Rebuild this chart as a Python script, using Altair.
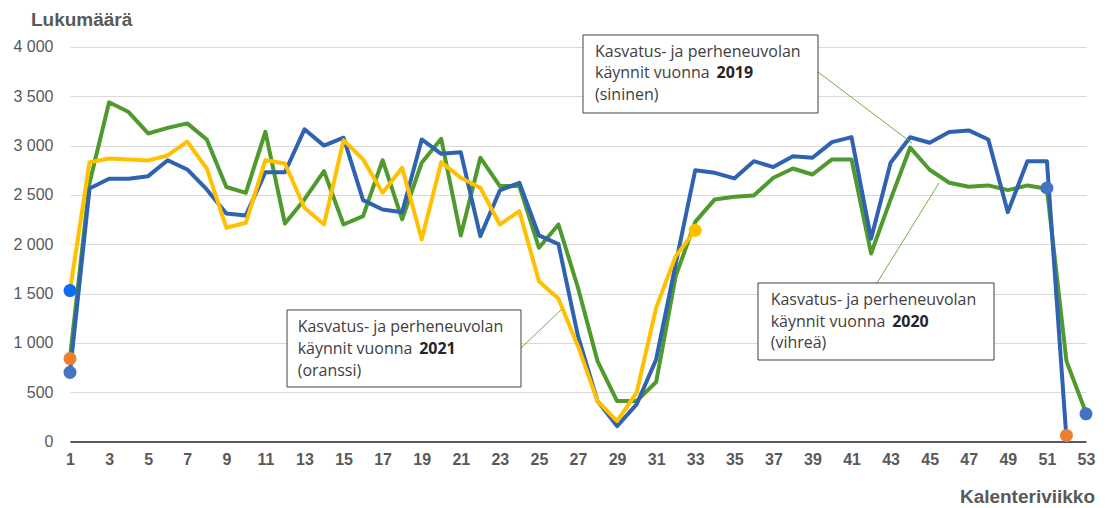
import altair as alt
import pandas as pd

weeks_2019 = list(range(1, 53))
values_2019 = [700, 2565, 2663, 2663, 2690, 2852, 2758, 2555, 2312, 2292, 2730, 2730, 3165, 3000,
               3080, 2447, 2352, 2325, 3062, 2917, 2933, 2082, 2545, 2623, 2089, 2000, 1068, 409,
               155, 375, 831, 1800, 2751, 2724, 2667, 2842, 2782, 2893, 2877, 3035, 3086, 2055,
               2826, 3085, 3029, 3137, 3154, 3062, 2325, 2842, 2842, 30]

weeks_2020 = list(range(1, 54))
values_2020 = [850, 2620, 3440, 3340, 3123, 3180, 3225, 3062, 2580, 2520, 3140, 2210, 2454, 2741,
               2200, 2285, 2852, 2251, 2826, 3069, 2089, 2877, 2589, 2590, 1964, 2200, 1558, 814,
               409, 409, 602, 1676, 2226, 2454, 2481, 2494, 2674, 2768, 2707, 2860, 2860, 1906,
               2454, 2980, 2755, 2623, 2582, 2596, 2548, 2596, 2562, 814, 290]

weeks_2021 = list(range(1, 34))
values_2021 = [1530, 2832, 2870, 2860, 2850, 2900, 3040, 2768, 2167, 2217, 2852, 2819, 2370, 2200,
               3055, 2860, 2522, 2775, 2048, 2832, 2674, 2572, 2200, 2335, 1625, 1447, 966, 409,
               206, 494, 1355, 1879, 2140]

dot_weeks = [1, 1, 1, 33, 51, 52, 53]
dot_values = [1530, 840, 700, 2140, 2570, 60, 280]
dot_colors = ["#0f6af2", "#ed7d31", "#4472c4", "#ffc000", "#4472c4", "#ed7d31", "#4472c4"]

x_ticks = list(range(1, 54, 2))
y_ticks = [0, 500, 1000, 1500, 2000, 2500, 3000, 3500, 4000]

BLUE = "#2f62b0"
GREEN = "#4f9a2d"
YELLOW = "#ffc000"
GRAY = "#595959"

df19 = pd.DataFrame({"week": weeks_2019, "value": values_2019})
df20 = pd.DataFrame({"week": weeks_2020, "value": values_2020})
df21 = pd.DataFrame({"week": weeks_2021, "value": values_2021})
dots = pd.DataFrame({"week": dot_weeks, "value": dot_values, "color": dot_colors})

xscale = alt.Scale(domain=[1, 53], nice=False, zero=False)
yscale = alt.Scale(domain=[0, 4000], nice=False)

xaxis = alt.Axis(values=x_ticks, title=None, grid=False, ticks=False, domain=True,
                 domainColor=GRAY, domainWidth=2, labelColor=GRAY, labelFont="Liberation Sans",
                 labelFontSize=16, labelFontWeight="bold", labelPadding=10, labelFlush=False)
yaxis = alt.Axis(values=y_ticks, title=None, grid=True, gridColor="#d9d9d9", gridWidth=1,
                 ticks=False, domain=False, labelColor=GRAY, labelFont="Liberation Sans",
                 labelFontSize=16, labelPadding=17,
                 labelExpr="replace(format(datum.value, ','), ',', ' ')")

X = alt.X("week:Q", scale=xscale, axis=xaxis)
Y = alt.Y("value:Q", scale=yscale, axis=yaxis)


def line(df, color):
    return alt.Chart(df).mark_line(color=color, strokeWidth=4, strokeJoin="round").encode(x=X, y=Y)


l20 = line(df20, GREEN)
l19 = line(df19, BLUE)
l21 = line(df21, YELLOW)

pts = alt.Chart(dots).mark_circle(size=170, opacity=1).encode(
    x=X, y=Y, color=alt.Color("color:N", scale=None),
)


def rule(x1, y1, x2, y2):
    return alt.Chart(pd.DataFrame({"a": [0]})).mark_rule(color="#70ad47", strokeWidth=1).encode(
        x=alt.value(x1), y=alt.value(y1), x2=alt.value(x2), y2=alt.value(y2))


def box(x1, y1, x2, y2):
    return alt.Chart(pd.DataFrame({"a": [0]})).mark_rect(
        fill="white", stroke="#404040", strokeWidth=1).encode(
        x=alt.value(x1), y=alt.value(y1), x2=alt.value(x2), y2=alt.value(y2))


def txt(s, x, y, bold=False, size=16, color="#404040", font="Open Sans", align="left"):
    return alt.Chart(pd.DataFrame({"t": [s]})).mark_text(
        align=align, baseline="middle", font=font, fontSize=size,
        fontWeight="bold" if bold else "normal", color=color).encode(
        text="t:N", x=alt.value(x), y=alt.value(y))


def annotation(bx1, by1, bx2, by2, tx, ty, year, colour_word):
    return [
        box(bx1, by1, bx2, by2),
        txt("Kasvatus- ja perheneuvolan", tx, ty),
        txt("käynnit vuonna", tx, ty + 21.7),
        txt(year, tx + 121.5, ty + 21.7, bold=True, color="#262626"),
        txt(colour_word, tx, ty + 43.3),
    ]


layers = [l20, l19, l21, pts,
          rule(748, 25, 842, 96), rule(807, 236, 869, 136), rule(451, 301, 491, 263)]
layers += annotation(513, -12, 748, 66, 525, 4.7, "2019", "(sininen)")
layers += annotation(688, 236, 924, 313, 700.7, 253, "2020", "(vihreä)")
layers += annotation(217, 263, 451, 340, 227.7, 280.3, "2021", "(oranssi)")
layers += [
    txt("Lukumäärä", -39, -27, bold=True, size=19, color=GRAY, font="Liberation Sans"),
    txt("Kalenteriviikko", 1025, 450, bold=True, size=19, color=GRAY, font="Liberation Sans",
        align="right"),
]

chart = alt.layer(*layers).properties(
    width=1016, height=394.4,
    autosize=alt.AutoSizeParams(type="none"),
    padding={"left": 62, "top": 39, "right": 15, "bottom": 66},
).configure_view(stroke=None)

chart.save("out.html", embed_options={"renderer": "svg", "actions": False})
